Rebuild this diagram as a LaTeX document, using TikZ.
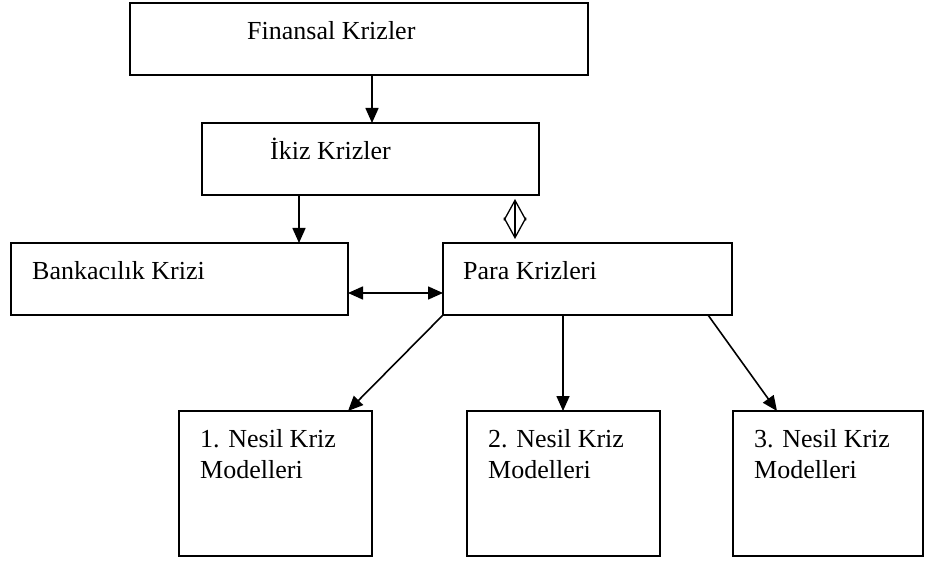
\documentclass[tikz,border=0pt]{standalone}
\usepackage{fontspec}
\setmainfont{Liberation Serif}
\usetikzlibrary{positioning,arrows.meta}

\begin{document}
\begin{tikzpicture}[x=1pt, y=-1pt,
	box/.style={draw, line width=2.2pt, inner sep=0pt, outer sep=0pt, anchor=north west},
	txt/.style={inner sep=0pt, anchor=base west, align=left,
		font=\fontsize{26}{31}\selectfont},
	arr/.style={line width=1.6pt, -{Triangle[length=15pt,width=13pt]}},
	biarr/.style={line width=1.6pt,
		{Triangle[length=15pt,width=13pt]}-{Triangle[length=15pt,width=13pt]}},
	hollow/.style={line width=1.3pt, shorten >=4pt, shorten <=4pt,
		{Straight Barb[length=20pt,width=22pt]}-{Straight Barb[length=20pt,width=22pt]}}
]

\useasboundingbox (0,0) rectangle (941,561);

% Finansal krizler
\node[box,
	minimum width=458pt,
	minimum height=72pt
] (finansal) at (130,3) {};
\node[txt] (finansal-t) at ([shift={(117pt,-37pt)}]finansal.north west) {Finansal Krizler};

% Ikiz krizler
\node[box,
	minimum width=337pt,
	minimum height=72pt
] (ikiz) at (202,123) {};
\node[txt] (ikiz-t) at ([shift={(68pt,-37pt)}]ikiz.north west) {İkiz Krizler};

% Bankacilik krizi and para krizleri
\node[box,
	minimum width=337pt,
	minimum height=72pt
] (bank) at (11,243) {};
\node[txt] (bank-t) at ([shift={(21pt,-36pt)}]bank.north west) {Bankacılık Krizi};

\node[box,
	minimum width=289pt,
	minimum height=72pt,
	right=95pt of bank
] (para) {};
\node[txt] (para-t) at ([shift={(20pt,-36pt)}]para.north west) {Para Krizleri};

% Kriz modelleri
\node[box,
	minimum width=193pt,
	minimum height=145pt
] (m1) at (179,411) {};
\node[txt] (m1-t) at ([shift={(21pt,-67pt)}]m1.north west) {1. Nesil Kriz\\Modelleri};

\node[box,
	minimum width=193pt,
	minimum height=145pt,
	right=95pt of m1
] (m2) {};
\node[txt] (m2-t) at ([shift={(21pt,-67pt)}]m2.north west) {2. Nesil Kriz\\Modelleri};

\node[box,
	minimum width=190pt,
	minimum height=145pt,
	right=73pt of m2
] (m3) {};
\node[txt] (m3-t) at ([shift={(21pt,-67pt)}]m3.north west) {3. Nesil Kriz\\Modelleri};

% Arrows
\coordinate (ikiz-in) at ([xshift=170pt]ikiz.north west);
\draw[arr] (finansal.south -| ikiz-in) -- (ikiz-in);

\draw[arr] ([xshift=97pt]ikiz.south west) -- ([xshift=97pt]ikiz.south west |- bank.north);

\draw[hollow] ([xshift=-24pt]ikiz.south east) -- ([xshift=-24pt]ikiz.south east |- para.north);

\draw[biarr] ([yshift=-14pt]bank.east) -- ([yshift=-14pt]bank.east -| para.west);

\draw[arr] (para.south west) -- ([xshift=-24pt]m1.north east);

\coordinate (m2-in) at ([xshift=-0.5pt]m2.north);
\draw[arr] (para.south -| m2-in) -- (m2-in);

\draw[arr] ([xshift=-24pt]para.south east) -- ([xshift=44pt]m3.north west);

\end{tikzpicture}
\end{document}
